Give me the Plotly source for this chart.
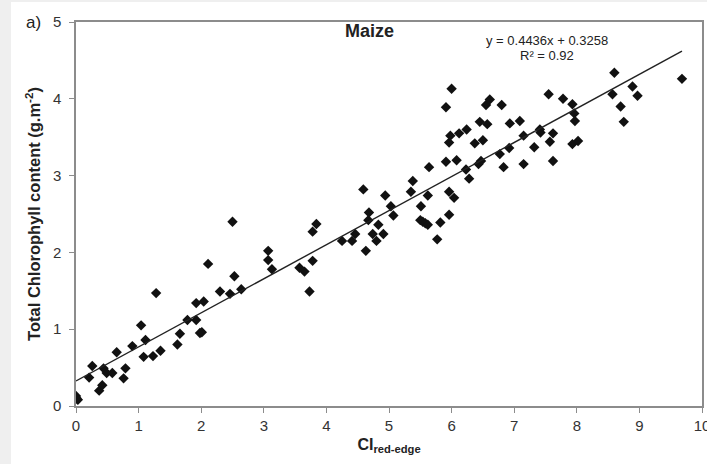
import plotly.graph_objects as go

# Data (CI red-edge vs total chlorophyll, maize)
ci_red_edge = [
    0.00, 0.03, 0.01, 0.21, 0.26, 0.37, 0.42, 0.44, 0.49, 0.58, 0.65, 0.76, 0.79, 0.90,
    1.04, 1.08, 1.11, 1.23, 1.28, 1.35, 1.62, 1.66, 1.78, 1.92, 1.92, 1.98, 2.01, 2.04,
    2.11, 2.30, 2.46, 2.50, 2.53, 2.64,
    3.07, 3.07, 3.13, 3.57, 3.65, 3.73, 3.78, 3.78, 3.84,
    4.25, 4.41, 4.46, 4.59, 4.63, 4.67, 4.68, 4.74, 4.80, 4.83, 4.91, 4.94,
    5.03, 5.07, 5.35, 5.38, 5.51, 5.50, 5.54, 5.58, 5.62, 5.62, 5.64, 5.77, 5.82, 5.91,
    5.91, 5.96, 5.96, 5.96, 5.98, 6.00,
    6.04, 6.08, 6.12, 6.23, 6.24, 6.28, 6.37, 6.43, 6.47, 6.45, 6.50, 6.55, 6.57, 6.61,
    6.77, 6.80, 6.83, 6.92, 6.93,
    7.09, 7.15, 7.15, 7.32, 7.41, 7.42, 7.55, 7.57, 7.62, 7.62, 7.78, 7.93, 7.96, 7.97,
    7.93, 8.02,
    8.57, 8.60, 8.70, 8.75, 8.89, 8.97, 9.68,
]
chlorophyll = [
    0.13, 0.08, 0.10, 0.37, 0.52, 0.20, 0.27, 0.49, 0.43, 0.43, 0.70, 0.36, 0.49, 0.78,
    1.05, 0.64, 0.86, 0.65, 1.47, 0.72, 0.80, 0.94, 1.12, 1.12, 1.34, 0.95, 0.96, 1.36,
    1.85, 1.49, 1.46, 2.40, 1.69, 1.52,
    2.02, 1.90, 1.78, 1.80, 1.75, 1.49, 1.89, 2.27, 2.37,
    2.15, 2.15, 2.24, 2.82, 2.02, 2.42, 2.52, 2.24, 2.15, 2.36, 2.24, 2.74,
    2.60, 2.48, 2.79, 2.93, 2.60, 2.42, 2.40, 2.38, 2.36, 2.74, 3.11, 2.17, 2.39, 3.18,
    3.89, 2.79, 2.49, 3.43, 3.52, 4.13,
    2.71, 3.20, 3.55, 3.08, 3.60, 2.96, 3.42, 3.15, 3.19, 3.70, 3.46, 3.92, 3.67, 3.99,
    3.28, 3.92, 3.11, 3.36, 3.68,
    3.71, 3.52, 3.15, 3.37, 3.60, 3.56, 4.06, 3.44, 3.55, 3.19, 4.00, 3.93, 3.81, 3.71,
    3.41, 3.45,
    4.06, 4.34, 3.90, 3.70, 4.16, 4.04, 4.26,
]

slope = 0.4436
intercept = 0.3258
trend_x = [0.0, 9.68]
trend_y = [slope * v + intercept for v in trend_x]

x_ticks = [0, 1, 2, 3, 4, 5, 6, 7, 8, 9, 10]
y_ticks = [0, 1, 2, 3, 4, 5]

W, H = 707, 464
ML, MR, MT, MB = 76, 5, 22, 58
PW, PH = W - ML - MR, H - MT - MB

def px_x(p):
    return (p - ML) / PW

def px_y(p):
    return (H - MB - p) / PH

FONT = "Liberation Sans, Arial, sans-serif"

fig = go.Figure()
fig.add_trace(go.Scatter(
    x=ci_red_edge, y=chlorophyll, mode="markers",
    marker=dict(symbol="diamond", size=8, color="#111111", line=dict(width=0)),
    showlegend=False, hoverinfo="x+y",
))
fig.add_trace(go.Scatter(
    x=trend_x, y=trend_y, mode="lines",
    line=dict(color="#222222", width=1.4),
    showlegend=False, hoverinfo="skip",
))

axis_common = dict(
    showline=True, linecolor="#8c8c8c", linewidth=1.5, mirror=True,
    ticks="outside", ticklen=5, tickcolor="#8c8c8c", tickwidth=1,
    showgrid=False, zeroline=False,
    tickfont=dict(family=FONT, size=15, color="#333333"),
)

fig.update_layout(
    width=W, height=H,
    margin=dict(l=ML, r=MR, t=MT, b=MB, autoexpand=False),
    paper_bgcolor="white", plot_bgcolor="white",
    font=dict(family=FONT, color="#222222"),
    xaxis=dict(
        range=[0, 10], tickvals=x_ticks, ticktext=[str(v) for v in x_ticks],
        ticklabeloverflow="allow",
        title=dict(text="<b>CI<sub>red-edge</sub></b>", font=dict(family=FONT, size=16, color="#222222"), standoff=6),
        **axis_common,
    ),
    yaxis=dict(
        range=[0, 5], tickvals=y_ticks, ticktext=[str(v) for v in y_ticks],
        ticklabelstandoff=5,
        title=dict(text="<b>Total Chlorophyll content (g.m<sup>-2</sup>)</b>", font=dict(family=FONT, size=16.5, color="#222222"), standoff=8),
        **axis_common,
    ),
    annotations=[
        dict(text="<b>Maize</b>", xref="paper", yref="paper", x=px_x(369), y=px_y(31),
             xanchor="center", yanchor="middle", showarrow=False,
             font=dict(family=FONT, size=18, color="#222222")),
        dict(text="y = 0.4436x + 0.3258", xref="paper", yref="paper", x=px_x(547), y=px_y(40),
             xanchor="center", yanchor="middle", showarrow=False,
             font=dict(family=FONT, size=13, color="#222222")),
        dict(text="R² = 0.92", xref="paper", yref="paper", x=px_x(547), y=px_y(56),
             xanchor="center", yanchor="middle", showarrow=False,
             font=dict(family=FONT, size=13, color="#222222")),
        dict(text="a)", xref="paper", yref="paper", x=px_x(33), y=px_y(23),
             xanchor="center", yanchor="middle", showarrow=False,
             font=dict(family=FONT, size=17, color="#222222")),
    ],
    shapes=[
        dict(type="rect", xref="paper", yref="paper", layer="below",
             x0=px_x(0), x1=px_x(11), y0=px_y(H), y1=px_y(0),
             fillcolor="#efefef", line=dict(width=0)),
        dict(type="rect", xref="paper", yref="paper", layer="below",
             x0=px_x(0), x1=px_x(W), y0=px_y(2), y1=px_y(0),
             fillcolor="#efefef", line=dict(width=0)),
    ],
)

fig.write_html("out.html")
